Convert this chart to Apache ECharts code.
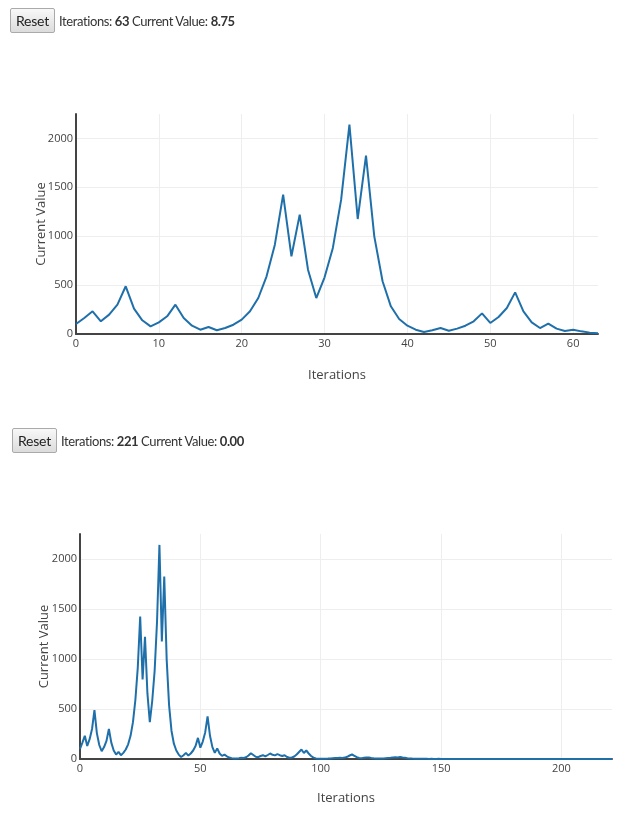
<!DOCTYPE html>
<html>
<head>
<meta charset="utf-8">
<title>Iterations</title>
<script src="https://cdn.jsdelivr.net/npm/echarts@6/dist/echarts.min.js"></script>
<style>
  body { margin: 0; background: #fff; }
  #chart { position: absolute; left: 0; top: 0; width: 640px; height: 814px; }
  .bar { position: absolute; font-family: Lato, sans-serif; font-size: 13px; letter-spacing: -0.4px; color: #333; z-index: 2; white-space: nowrap; }
  .bar button {
    font-family: Lato, sans-serif; font-size: 14px; color: #222; letter-spacing: -0.2px;
    width: 45px; height: 25px; padding: 0; margin-right: 4px;
    background: linear-gradient(#f8f8f8, #dcdcdc);
    border: 1px solid #aaa; border-radius: 2px; vertical-align: middle;
  }
  .bar span { vertical-align: middle; }
</style>
</head>
<body>
<div class="bar" style="left:10px; top:8px;"><button>Reset</button><span>Iterations: <b>63</b> Current Value: <b>8.75</b></span></div>
<div class="bar" style="left:12px; top:428px;"><button>Reset</button><span>Iterations: <b>221</b> Current Value: <b>0.00</b></span></div>
<div id="chart"></div>
<script>
// values, one per iteration
var firstRun = [102,164,232,130,198,300,488,259,140,78,119,181,300,164,85,44,72,38,61,95,
  147,232,368,590,914,1425,795,1221,658,368,
  580,880,1374,2141,1176,1824,999,539,283,153,
  85,44,20,38,61,34,55,85,130,211,
  113,174,266,426,232,119,61,106,55,31,
  44,27,14,8.75];

// iterations 64..221, only in the second chart
var tail = [6,5,8,12,10,18,35,58,40,22,
  18,30,38,26,40,55,42,36,48,38,
  30,38,20,12,15,25,45,70,95,60,
  85,55,30,14,6,3,2,2,3,4,
  6,8,10,9,12,10,14,22,35,45,
  32,18,10,8,12,16,14,10,7,5,
  4,4,6,8,10,12,15,18,16,20,
  15,12,8,6,4,3,3,2,3,2,
  2,1,2,1,1,2,1,1,0.5,1,
  0.5,0.5,1,0.5,0.3,0.5,0.3,0.2,0.3,0.2,
  0.2,0.1,0.2,0.1,0.1,0.1,0.2,0.1,0.1,0.05,
  0.05,0.1,0.05,0.05,0.02,0.05,0.02,0.02,0.01,0.02,
  0.01,0.01,0.01,0.01,0.01,0,0.01,0,0,0,
  0,0,0,0,0,0,0,0,0,0,
  0,0,0,0,0,0,0,0,0,0,
  0,0,0,0,0,0,0,0];

var secondRun = firstRun.concat(tail);

var yMax = 2250;
var yStep = 500;

function pairs(arr) {
  return arr.map(function (v, i) { return [i, v]; });
}

var font = '"Open Sans", sans-serif';
var lineColor = '#1f70aa';

function xAxis(idx, max, step, gap) {
  return {
    type: 'value', gridIndex: idx, min: 0, max: max, interval: step,
    name: 'Iterations', nameLocation: 'middle', nameGap: gap,
    nameTextStyle: { color: '#444', fontSize: 13, fontFamily: font },
    axisLine: { show: true, onZero: false, lineStyle: { color: '#444', width: 2 } },
    axisTick: { show: false },
    axisLabel: {
      color: '#444', fontSize: 11, fontFamily: font, margin: 4,
      formatter: function (v) { return v % step === 0 ? v : ''; }
    },
    splitLine: { show: true, showMaxLine: false, lineStyle: { color: '#eee', width: 1 } }
  };
}

function yAxis(idx, gap) {
  return {
    type: 'value', gridIndex: idx, min: 0, max: yMax, interval: yStep,
    name: 'Current Value', nameLocation: 'middle', nameGap: gap, nameMoveOverlap: false,
    nameTextStyle: { color: '#444', fontSize: 13, fontFamily: font },
    axisLine: { show: true, lineStyle: { color: '#444', width: 2 } },
    axisTick: { show: false },
    axisLabel: {
      color: '#444', fontSize: 11, fontFamily: font, margin: 3,
      formatter: function (v) { return v % yStep === 0 ? v : ''; }
    },
    splitLine: { show: true, showMaxLine: false, lineStyle: { color: '#eee', width: 1 } }
  };
}

var myChart = echarts.init(document.getElementById('chart'));
var option = {
  animation: false,
  grid: [
    { left: 76, top: 114, width: 522, height: 220, containLabel: false, outerBoundsMode: 'none' },
    { left: 80, top: 534, width: 532, height: 225, containLabel: false, outerBoundsMode: 'none' }
  ],
  xAxis: [xAxis(0, 63, 10, 35), xAxis(1, 221, 50, 33)],
  yAxis: [yAxis(0, 28), yAxis(1, 29)],
  series: [
    {
      type: 'line', xAxisIndex: 0, yAxisIndex: 0, data: pairs(firstRun),
      showSymbol: false, lineStyle: { color: lineColor, width: 2 }, itemStyle: { color: lineColor }
    },
    {
      type: 'line', xAxisIndex: 1, yAxisIndex: 1, data: pairs(secondRun),
      showSymbol: false, lineStyle: { color: lineColor, width: 2 }, itemStyle: { color: lineColor }
    }
  ]
};
myChart.setOption(option);
</script>
</body>
</html>
